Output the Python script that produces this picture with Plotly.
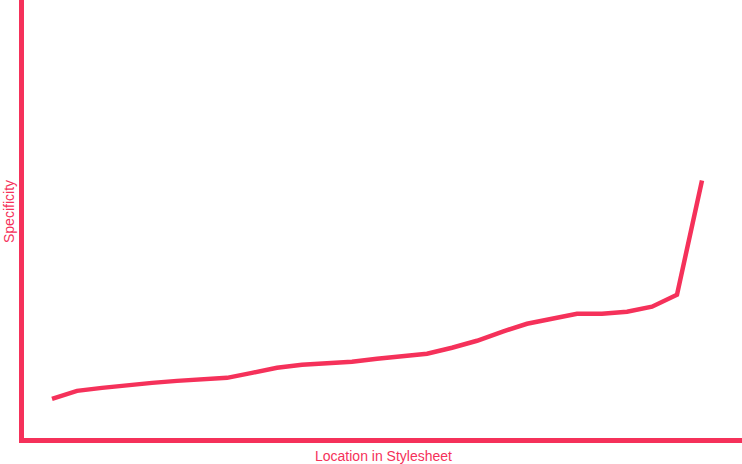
import plotly.graph_objects as go

location = list(range(27))
specificity = [40, 48, 51, 54, 56, 58, 59, 61, 66, 71, 74, 75, 77, 80, 82, 85,
               91, 98, 107, 115, 120, 125, 125, 127, 132, 144, 258]

PINK = "#f5315a"

fig = go.Figure(go.Scatter(
    x=location, y=specificity, mode="lines",
    line=dict(color=PINK, width=4.5),
    hoverinfo="skip",
))

fig.update_layout(
    width=742, height=464,
    margin=dict(l=24, r=0, t=0, b=26),
    paper_bgcolor="white", plot_bgcolor="white",
    showlegend=False,
    font=dict(family="Liberation Sans, Arial, sans-serif", size=14, color=PINK),
    xaxis=dict(range=[-1.12, 27.6], showgrid=False, zeroline=False,
               showticklabels=False, ticks="", showline=True,
               linecolor=PINK, linewidth=5, automargin=False),
    yaxis=dict(range=[1, 438], showgrid=False, zeroline=False,
               showticklabels=False, ticks="", showline=True,
               linecolor=PINK, linewidth=5, automargin=False),
    annotations=[
        dict(text="Location in Stylesheet", xref="paper", yref="paper",
             x=0.5, y=0, yshift=-18, xanchor="center", yanchor="middle",
             showarrow=False, font=dict(size=14, color=PINK)),
        dict(text="Specificity", xref="paper", yref="paper",
             x=0, y=0.5, xshift=-15, yshift=7, xanchor="center", yanchor="middle",
             textangle=-90, showarrow=False, font=dict(size=14, color=PINK)),
    ],
)

fig.write_html("out.html",
               config={"displayModeBar": False},
               post_script="document.body.style.margin='0';"
                           "document.body.style.overflow='hidden';")
